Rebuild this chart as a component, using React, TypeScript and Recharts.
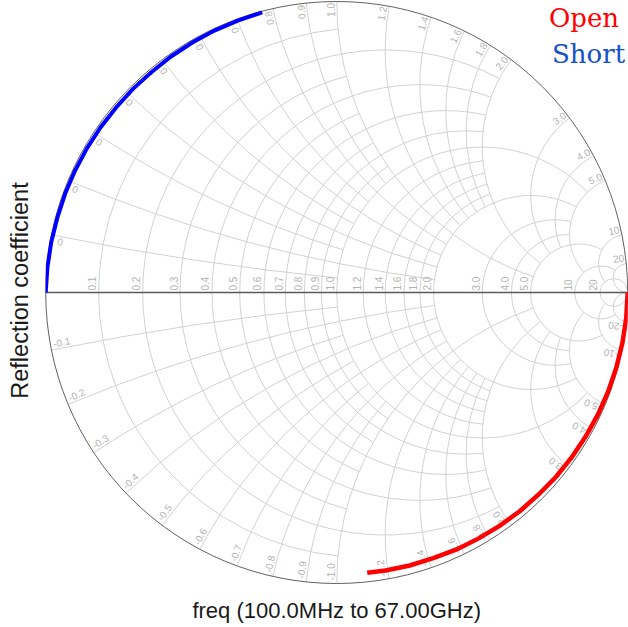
import React from 'react';
import * as RC from 'recharts';
import { ComposedChart, Scatter, XAxis, YAxis, Customized } from 'recharts';

// ---------- data (reflection coefficient, real / imaginary) ----------
const openRe = [1.0, 0.995, 0.982, 0.961, 0.933, 0.898, 0.856, 0.808, 0.754, 0.694, 0.63, 0.561, 0.488, 0.412, 0.332, 0.251, 0.168, 0.105];
const openIm = [0.0, -0.087, -0.173, -0.258, -0.34, -0.419, -0.494, -0.566, -0.633, -0.694, -0.751, -0.801, -0.845, -0.883, -0.913, -0.938, -0.955, -0.963];
const shortRe = [-1.0, -0.994, -0.981, -0.96, -0.933, -0.899, -0.858, -0.811, -0.758, -0.7, -0.636, -0.568, -0.496, -0.42, -0.34, -0.256];
const shortIm = [0.0, 0.087, 0.173, 0.257, 0.34, 0.419, 0.496, 0.568, 0.636, 0.7, 0.758, 0.812, 0.859, 0.9, 0.934, 0.963];

// ---------- Smith grid definition ----------
const gridValues = [0.1, 0.2, 0.3, 0.4, 0.5, 0.6, 0.7, 0.8, 0.9, 1.0, 1.2, 1.4, 1.6, 1.8, 2.0, 3, 4, 5, 10, 20];
const gridLimits = [1, 2, 1, 2, 1, 2, 1, 2, 1, 5, 2, 2, 2, 2, 5, 5, 5, 10, 20, Infinity];
const resistanceLabels = ['0.1', '0.2', '0.3', '0.4', '0.5', '0.6', '0.7', '0.8', '0.9', '1.0', '1.2', '1.4', '1.6', '1.8', '2.0', '3.0', '4.0', '5.0', '10', '20'];
const reactanceUpperLabels = ['0', '0', '0', '0', '0', '0', '0', '0.8', '0.9', '1.0', '1.2', '1.4', '1.6', '1.8', '2.0', '3.0', '4.0', '5.0', '10', '20'];
const reactanceLowerLabels = ['-0.1', '-0.2', '-0.3', '-0.4', '-0.5', '-0.6', '-0.7', '-0.8', '-0.9', '-1.0', '-1.2', '-1.4', '-1.6', '-1.8', '-2.0', '-3.0', '-4.0', '-5.0', '-10', '-20'];

const seriesNames = ['Open', 'Short'];
const seriesColors = ['#ff0000', '#0000ff'];
const legendColors = ['#ff0000', '#1450c8'];
const xTitle = 'freq (100.0MHz to 67.00GHz)';
const yTitle = 'Reflection coefficient';

const CHART_W = 628;
const CHART_H = 627;
const MARGIN = { top: 1.5, right: 0.3, bottom: 43.5, left: 45.7 };

const openData = openRe.map((re, i) => ({ re, im: openIm[i] }));
const shortData = shortRe.map((re, i) => ({ re, im: shortIm[i] }));

const usePlotAreaSafe: () => any = (RC as any).usePlotArea || (() => null);

type P = [number, number];

function gamma(r: number, x: number): P {
  if (!isFinite(r) || !isFinite(x)) return [1, 0];
  const d = (r + 1) * (r + 1) + x * x;
  return [(r * r - 1 + x * x) / d, (2 * x) / d];
}

function arcPath(c: P, rad: number, p1: P, p2: P, pm: P): string {
  const ang = (p: P) => Math.atan2(p[1] - c[1], p[0] - c[0]);
  const TAU = Math.PI * 2;
  const norm = (a: number) => ((a % TAU) + TAU) % TAU;
  const a1 = ang(p1), a2 = ang(p2), am = ang(pm);
  const d = norm(a2 - a1), dm = norm(am - a1);
  let sweep = 1, span = d;
  if (!(dm < d)) { sweep = 0; span = TAU - d; }
  const large = span > Math.PI ? 1 : 0;
  return `M${p1[0].toFixed(2)},${p1[1].toFixed(2)} A${rad.toFixed(2)},${rad.toFixed(2)} 0 ${large} ${sweep} ${p2[0].toFixed(2)},${p2[1].toFixed(2)}`;
}

function getArea(pa: any) {
  return pa || { x: MARGIN.left, y: MARGIN.top, width: CHART_W - MARGIN.left - MARGIN.right, height: CHART_H - MARGIN.top - MARGIN.bottom };
}

function SmithGrid() {
  const area = getArea(usePlotAreaSafe());
  const R = area.width / 2;
  const cx = area.x + area.width / 2;
  const cy = area.y + area.height / 2;
  const px = (g: P): P => [cx + g[0] * R, cy - g[1] * R];
  const gridStroke = '#d2d2d2';
  const labelFill = '#b3b3b3';
  const font = '"Liberation Sans", Arial, sans-serif';

  const paths: React.ReactNode[] = [];
  const labels: React.ReactNode[] = [];

  gridValues.forEach((v, i) => {
    const lim = gridLimits[i];
    // resistance circle
    const rc: P = px([v / (1 + v), 0]);
    const rr = R / (1 + v);
    if (!isFinite(lim)) {
      paths.push(<circle key={'rc' + i} cx={rc[0]} cy={rc[1]} r={rr} fill="none" stroke={gridStroke} strokeWidth={1} />);
    } else {
      paths.push(
        <path key={'r' + i} d={arcPath(rc, rr, px(gamma(v, -lim)), px(gamma(v, lim)), px(gamma(v, 0)))} fill="none" stroke={gridStroke} strokeWidth={1} />
      );
    }
    // reactance arcs (+/-)
    [1, -1].forEach((s) => {
      const x = s * v;
      const c: P = px([1, 1 / x]);
      const rad = R / v;
      const p1 = px(gamma(0, x));
      const p2 = isFinite(lim) ? px(gamma(lim, x)) : px([1, 0]);
      const pm = px(gamma(isFinite(lim) ? lim / 2 : 1, x));
      paths.push(<path key={'x' + i + '_' + s} d={arcPath(c, rad, p1, p2, pm)} fill="none" stroke={gridStroke} strokeWidth={1} />);
    });

    // resistance label on real axis
    const lp = px([(v - 1) / (v + 1), 0]);
    labels.push(
      <text key={'rl' + i} transform={`translate(${lp[0] - 2.5},${lp[1] - 2}) rotate(-90)`} fontSize={10} fontFamily={font} fill={labelFill} textAnchor="start">
        {resistanceLabels[i]}
      </text>
    );
    // upper reactance label
    const gu = gamma(0, v);
    const thu = (Math.atan2(gu[1], gu[0]) * 180) / Math.PI;
    const pu = px(gu);
    const upText = reactanceUpperLabels[i];
    labels.push(
      <text key={'xu' + i} transform={`translate(${pu[0]},${pu[1]}) rotate(${-thu})`} x={upText === '0' ? -10 : -1.5} y={-2} fontSize={10} fontFamily={font} fill={labelFill} textAnchor={upText === '0' ? 'middle' : 'end'}>
        {upText}
      </text>
    );
    // lower reactance label
    const gl = gamma(0, -v);
    const thl = (Math.atan2(gl[1], gl[0]) * 180) / Math.PI;
    const pl = px(gl);
    labels.push(
      <text key={'xl' + i} transform={`translate(${pl[0]},${pl[1]}) rotate(${180 - thl})`} x={3} y={-2} fontSize={10} fontFamily={font} fill={labelFill} textAnchor="start">
        {reactanceLowerLabels[i]}
      </text>
    );
  });

  const left = px([-1, 0]);
  const right = px([1, 0]);

  return (
    <g>
      {paths}
      <line x1={left[0]} y1={left[1]} x2={right[0]} y2={right[1]} stroke="#5a5a5a" strokeWidth={1.5} />
      <circle cx={cx} cy={cy} r={R} fill="none" stroke="#626262" strokeWidth={1} />
      {labels}
    </g>
  );
}

function Titles() {
  const area = getArea(usePlotAreaSafe());
  const cx = area.x + area.width / 2;
  const cy = area.y + area.height / 2;
  const font = '"Liberation Sans", Arial, sans-serif';
  return (
    <g>
      <text x={cx} y={618} textAnchor="middle" fontSize={22} fontFamily={font} fill="#1a1a1a">{xTitle}</text>
      <text transform={`translate(28,${cy - 2}) rotate(-90)`} textAnchor="middle" fontSize={23.5} fontFamily={font} fill="#1a1a1a">{yTitle}</text>
      <text x={549} y={27} fontSize={26} fontFamily='"DejaVu Serif", serif' fill={legendColors[0]}>{seriesNames[0]}</text>
      <text x={552} y={63} fontSize={26} fontFamily='"DejaVu Serif", serif' fill={legendColors[1]}>{seriesNames[1]}</text>
    </g>
  );
}

const NoDot = () => <g />;

export default function App() {
  return (
    <div style={{ position: 'absolute', left: 0, top: 0, width: CHART_W, height: CHART_H, background: '#fff' }}>
      <ComposedChart width={CHART_W} height={CHART_H} margin={MARGIN}>
        <XAxis type="number" dataKey="re" domain={[-1, 1]} allowDataOverflow hide />
        <YAxis type="number" dataKey="im" domain={[-1, 1]} allowDataOverflow hide />
        <Customized component={<SmithGrid />} />
        <Scatter name={seriesNames[0]} data={openData} fill={seriesColors[0]} line={{ stroke: seriesColors[0], strokeWidth: 4.5 }} shape={NoDot} isAnimationActive={false} />
        <Scatter name={seriesNames[1]} data={shortData} fill={seriesColors[1]} line={{ stroke: seriesColors[1], strokeWidth: 4 }} shape={NoDot} isAnimationActive={false} />
        <Customized component={<Titles />} />
      </ComposedChart>
    </div>
  );
}
